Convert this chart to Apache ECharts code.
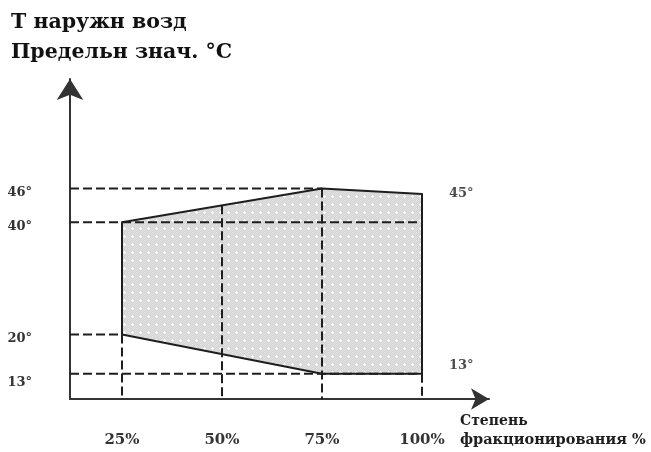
<!DOCTYPE html>
<html>
<head>
<meta charset="utf-8">
<title>Т наружн возд — степень фракционирования</title>
<script src="https://cdn.jsdelivr.net/npm/echarts@6/dist/echarts.min.js"></script>
<style>
  html, body { margin: 0; padding: 0; background: #fff; }
  #chart { width: 651px; height: 452px; }
</style>
</head>
<body>
<div id="chart"></div>
<script>
// Operating envelope: outdoor air temperature limits vs. fractionation degree
const xTicks = [25, 50, 75, 100];          // степень фракционирования, %
const yTicks = [13, 20, 40, 46];          // температура, °C
const upperX = [25, 75, 100];
const upperT = [40, 46, 45];              // upper limit
const lowerX = [25, 75, 100];
const lowerT = [20, 13, 13];              // lower limit
const valueLabels = [[100, 45], [100, 13]];

const X_MIN = 12, X_MAX = 116.75;
const Y_MIN = 8.5, Y_MAX = 65.5;
const SERIF = "'DejaVu Serif', 'Liberation Serif', serif";
const INK = '#1e1e1e';

// upper boundary value at a given x (on the polyline)
function upperAt(x) {
  for (let i = 0; i < upperX.length - 1; i++) {
    if (x >= upperX[i] && x <= upperX[i + 1]) {
      const t = (x - upperX[i]) / (upperX[i + 1] - upperX[i]);
      return upperT[i] + t * (upperT[i + 1] - upperT[i]);
    }
  }
  return upperT[upperT.length - 1];
}

// grey stipple fill with light crosses
function makePattern() {
  const c = document.createElement('canvas');
  c.width = 8; c.height = 8;
  const g = c.getContext('2d');
  g.fillStyle = '#d4d4d4';
  g.fillRect(0, 0, 8, 8);
  g.fillStyle = '#dfdfdf';
  for (let y = 0; y < 8; y++) for (let x = 0; x < 8; x++) if ((x + y) % 2 === 0) g.fillRect(x, y, 1, 1);
  g.fillStyle = '#f8f8f8';
  g.fillRect(3, 4, 3, 1);
  g.fillRect(4, 3, 1, 3);
  g.fillStyle = '#ececec';
  g.fillRect(0, 0, 1, 1);
  return c;
}
const pattern = makePattern();

// polygon outline: upper boundary left→right, lower boundary right→left
const envelope = upperX.map((x, i) => [x, upperT[i]])
  .concat(lowerX.map((x, i) => [x, lowerT[i]]).reverse());

// dashed guide lines
const hGuides = [[46, 75], [40, 100], [20, 25], [13, 100]];   // [T, x end]
const vGuides = [[25, lowerT[0]], [50, upperAt(50)], [75, upperT[1]], [100, lowerT[2]]]; // [x, T top]

const guideSeries = [];
hGuides.forEach(([t, xe]) => guideSeries.push([[X_MIN, t], [xe, t]]));
vGuides.forEach(([x, t]) => guideSeries.push([[x, t], [x, Y_MIN]]));

const chart = echarts.init(document.getElementById('chart'), null, { renderer: 'canvas' });

const series = [
  {
    type: 'custom',
    z: 1,
    silent: true,
    data: [0],
    renderItem: function (params, api) {
      const pts = envelope.map(p => api.coord(p));
      return {
        type: 'polygon',
        shape: { points: pts },
        style: { fill: { image: pattern, repeat: 'repeat' }, stroke: INK, lineWidth: 2, lineJoin: 'round' }
      };
    }
  }
];
guideSeries.forEach(seg => series.push({
  type: 'line',
  z: 3,
  silent: true,
  symbol: 'none',
  data: seg,
  lineStyle: { color: INK, width: 2, type: [9, 4] }
}));
series.push({
  type: 'scatter',
  z: 4,
  symbolSize: 0,
  data: valueLabels.map((v, i) => ({
    value: v,
    label: i === 1 ? { offset: [0, -8] } : {}
  })),
  label: {
    show: true,
    position: 'right',
    distance: 27,
    formatter: p => p.value[1] + '°',
    fontFamily: SERIF,
    fontWeight: 'bold',
    fontSize: 13,
    color: INK
  }
});

chart.setOption({
  animation: false,
  backgroundColor: '#ffffff',
  title: {
    text: 'Т наружн возд\nПредельн знач. °С',
    left: 11,
    top: 8,
    padding: 0,
    textStyle: {
      fontFamily: SERIF,
      fontWeight: 'bold',
      fontSize: 20.5,
      lineHeight: 30,
      color: '#111'
    }
  },
  grid: { left: 70, top: 79, right: 162, bottom: 53 },
  xAxis: {
    type: 'value',
    min: X_MIN,
    max: X_MAX,
    splitLine: { show: false },
    axisTick: { show: false },
    axisLine: {
      onZero: false,
      symbol: ['none', 'arrow'],
      symbolSize: [16, 18],
      lineStyle: { color: '#333', width: 2 }
    },
    axisLabel: {
      customValues: xTicks,
      formatter: v => v + '%',
      margin: 34,
      fontFamily: SERIF,
      fontWeight: 'bold',
      fontSize: 15,
      color: '#333'
    }
  },
  yAxis: {
    type: 'value',
    min: Y_MIN,
    max: Y_MAX,
    splitLine: { show: false },
    axisTick: { show: false },
    axisLine: {
      onZero: false,
      symbol: ['none', 'arrow'],
      symbolSize: [20, 21],
      lineStyle: { color: '#333', width: 2 }
    },
    axisLabel: {
      customValues: yTicks,
      formatter: v => (v === yTicks[0] ? '{low|' + v + '°}' : v + '°'),
      margin: 38,
      padding: [8, 0, 0, 0],
      fontFamily: SERIF,
      fontWeight: 'bold',
      fontSize: 13,
      color: '#333',
      rich: {
        low: { padding: [10, 0, 0, 0], fontFamily: SERIF, fontWeight: 'bold', fontSize: 13, color: '#333' }
      }
    }
  },
  graphic: [
    {
      type: 'text', left: 460, top: 414,
      style: { text: 'Степень', font: 'bold 14px ' + SERIF, fill: INK }
    },
    {
      type: 'text', left: 460, top: 433,
      style: { text: 'фракционирования %', font: 'bold 14.5px ' + SERIF, fill: INK }
    }
  ],
  series: series
});
</script>
</body>
</html>
